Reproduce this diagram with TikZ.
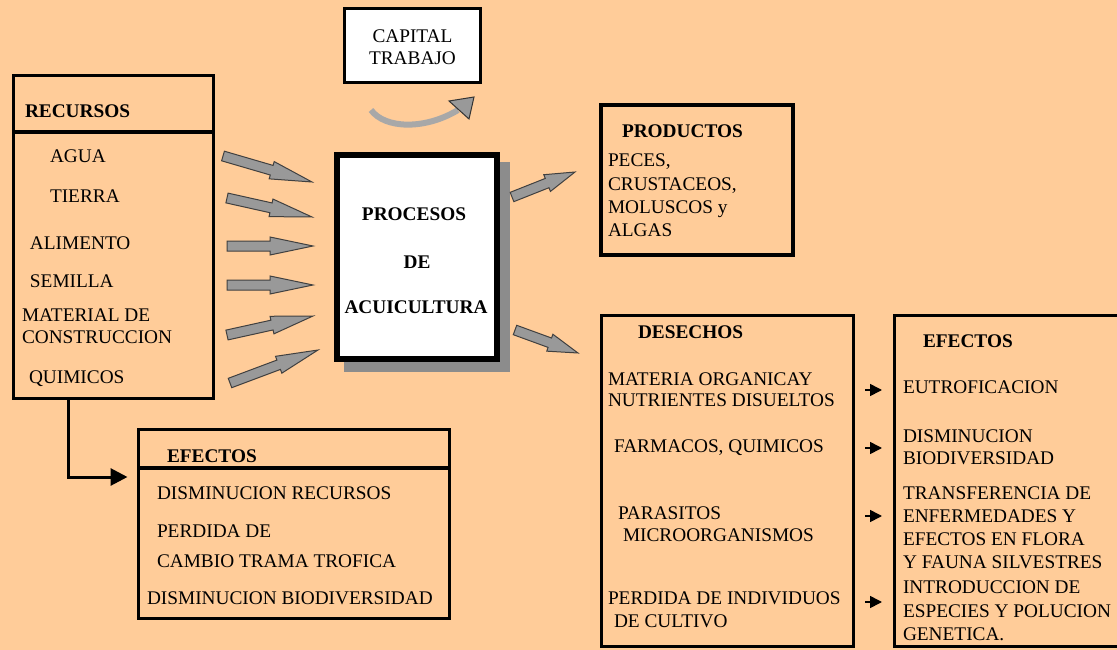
\documentclass[tikz,border=0pt]{standalone}
\usepackage{fontspec}
\setmainfont{Liberation Serif}
\usetikzlibrary{arrows.meta}
\definecolor{bgpeach}{HTML}{FFCC99}
\definecolor{arrgray}{HTML}{999999}
\definecolor{shadowgray}{HTML}{8C8C8C}
\newcommand\fatarrow[5]{%
 \pgfmathsetmacro\fadx{#3-#1}%
 \pgfmathsetmacro\fady{#4-#2}%
 \pgfmathsetmacro\faang{-atan2(\fady,\fadx)}%
 \pgfmathsetmacro\falen{veclen(\fadx,\fady)}%
 \pgfmathsetmacro\fah{\falen-#5}%
 \begin{scope}[shift={(#1,#2)},rotate=\faang]
 \draw[fatarr] (0,-5) -- (\fah,-5) -- (\fah,-9) -- (\falen,0) -- (\fah,9) -- (\fah,5) -- (0,5) -- cycle;
 \end{scope}}
\begin{document}
\begin{tikzpicture}[x=1pt,y=-1pt,
 font=\fontsize{19.3}{22}\selectfont,
 box/.style={draw=black, line width=3.5pt, inner sep=0pt, outer sep=0pt, anchor=north west},
 lbl/.style={inner sep=0pt, outer sep=0pt, anchor=base west, text=black},
 hdr/.style={lbl, font=\fontsize{19.3}{22}\selectfont\bfseries},
 fatarr/.style={fill=arrgray, draw=black!75, line width=1pt, line join=miter},
 sarr/.style={line width=1.6pt, -{Triangle[length=12pt,width=12pt]}},
 conn/.style={line width=3pt, -{Triangle[length=17pt,width=17pt]}}]
\useasboundingbox (0,0) rectangle (1117,650);
\fill[bgpeach] (0,0) rectangle (1117,650);
\clip (0,0) rectangle (1117,650);

% CAPITAL TRABAJO
\node[box, fill=white, minimum width=136pt, minimum height=74pt] (cap) at (344.5,8.5) {};
\node[lbl, anchor=base] (capa) at (412.5,43) {CAPITAL};
\node[lbl, anchor=base] (capb) at (412.5,65) {TRABAJO};
\draw[line width=6pt, color=arrgray!85!white] (371,110) .. controls (385,129) and (425,130) .. (458,110);
\draw[fill=arrgray, draw=black!80, line width=1pt] (449,101) -- (474,97) -- (469,119) -- cycle;

% RECURSOS
\node[box, minimum width=200pt, minimum height=323pt] (rec) at (13.5,75.5) {};
\draw[line width=3.5pt] (rec.west |- 0,132) -- (rec.east |- 0,132);
\node[hdr] (rech) at (25,118) {RECURSOS};
\node[lbl] (r1) at (50,163) {AGUA};
\node[lbl] (r2) at (50,202) {TIERRA};
\node[lbl] (r3) at (30,249) {ALIMENTO};
\node[lbl] (r4) at (30,287) {SEMILLA};
\node[lbl] (r5) at (22,321) {MATERIAL DE};
\node[lbl] (r6) at (22,343) {CONSTRUCCION};
\node[lbl] (r7) at (29,383) {QUIMICOS};

% fat arrows into process
\fatarrow{223}{156}{312}{182}{42}
\fatarrow{227}{198}{312}{217}{42}
\fatarrow{227}{246}{313}{246}{43}
\fatarrow{227}{285}{313}{285}{43}
\fatarrow{227}{335}{313}{316}{42}
\fatarrow{230}{383}{318}{350}{42}

% PROCESOS
\fill[shadowgray] (344,162) rectangle (510,372);
\node[box, fill=white, line width=6pt, minimum width=160pt, minimum height=204pt] (proc) at (337,155) {};
\node[hdr, anchor=base] (pt1) at (414,220) {PROCESOS};
\node[hdr, anchor=base] (pt2) at (417,268) {DE};
\node[hdr, anchor=base] (pt3) at (416,313) {ACUICULTURA};

% fat arrows out of process
\fatarrow{512}{197}{575}{172}{30}
\fatarrow{515}{330}{578}{353}{30}

% PRODUCTOS
\node[box, minimum width=192pt, minimum height=150pt] (prod) at (601,105) {};
\node[hdr] (prodh) at (622,138) {PRODUCTOS};
\node[lbl] (p1) at (608,167) {PECES,};
\node[lbl] (p2) at (608,190) {CRUSTACEOS,};
\node[lbl] (p3) at (608,213) {MOLUSCOS y};
\node[lbl] (p4) at (608,236) {ALGAS};

% DESECHOS
\node[box, minimum width=252pt, minimum height=331pt] (des) at (601.5,315.5) {};
\node[hdr] (desh) at (638,338) {DESECHOS};
\node[lbl] (d1) at (608,385) {MATERIA ORGANICAY};
\node[lbl] (d2) at (608,406) {NUTRIENTES DISUELTOS};
\node[lbl] (d3) at (614,452) {FARMACOS, QUIMICOS};
\node[lbl] (d4) at (618,519) {PARASITOS};
\node[lbl] (d5) at (623,541) {MICROORGANISMOS};
\node[lbl] (d6) at (608,604) {PERDIDA DE INDIVIDUOS};
\node[lbl] (d7) at (614,627) {DE CULTIVO};

% EFECTOS (right)
\node[box, minimum width=240pt, minimum height=331pt] (efr) at (894.5,315.5) {};
\node[hdr] (efrh) at (923,347) {EFECTOS};
\node[lbl] (e1) at (903,393) {EUTROFICACION};
\node[lbl] (e2) at (903,442) {DISMINUCION};
\node[lbl] (e3) at (903,464) {BIODIVERSIDAD};
\node[lbl] (e4) at (903,499) {TRANSFERENCIA DE};
\node[lbl] (e5) at (903,522) {ENFERMEDADES Y};
\node[lbl] (e6) at (903,545) {EFECTOS EN FLORA};
\node[lbl] (e7) at (903,568) {Y FAUNA SILVESTRES};
\node[lbl] (e8) at (903,593) {INTRODUCCION DE};
\node[lbl] (e9) at (903,617) {ESPECIES Y POLUCION};
\node[lbl] (e10) at (903,640) {GENETICA.};

\foreach \yy in {390,448,516,602}
 \draw[sarr, shorten <=11.5pt, shorten >=12.5pt] (des.east |- 0,\yy) -- (efr.west |- 0,\yy);

% EFECTOS (bottom)
\node[box, minimum width=311pt, minimum height=189pt] (efb) at (138.5,429.5) {};
\draw[line width=3.5pt] (efb.west |- 0,468) -- (efb.east |- 0,468);
\node[hdr] (efbh) at (167,462) {EFECTOS};
\node[lbl] (b1) at (157,499) {DISMINUCION RECURSOS};
\node[lbl] (b2) at (157,537) {PERDIDA DE};
\node[lbl] (b3) at (157,567) {CAMBIO TRAMA TROFICA};
\node[lbl] (b4) at (147,604) {DISMINUCION BIODIVERSIDAD};

\draw[conn, shorten >=11pt] ([xshift=54.5pt]rec.south west) |- (efb.west |- 0,477);
\end{tikzpicture}
\end{document}
